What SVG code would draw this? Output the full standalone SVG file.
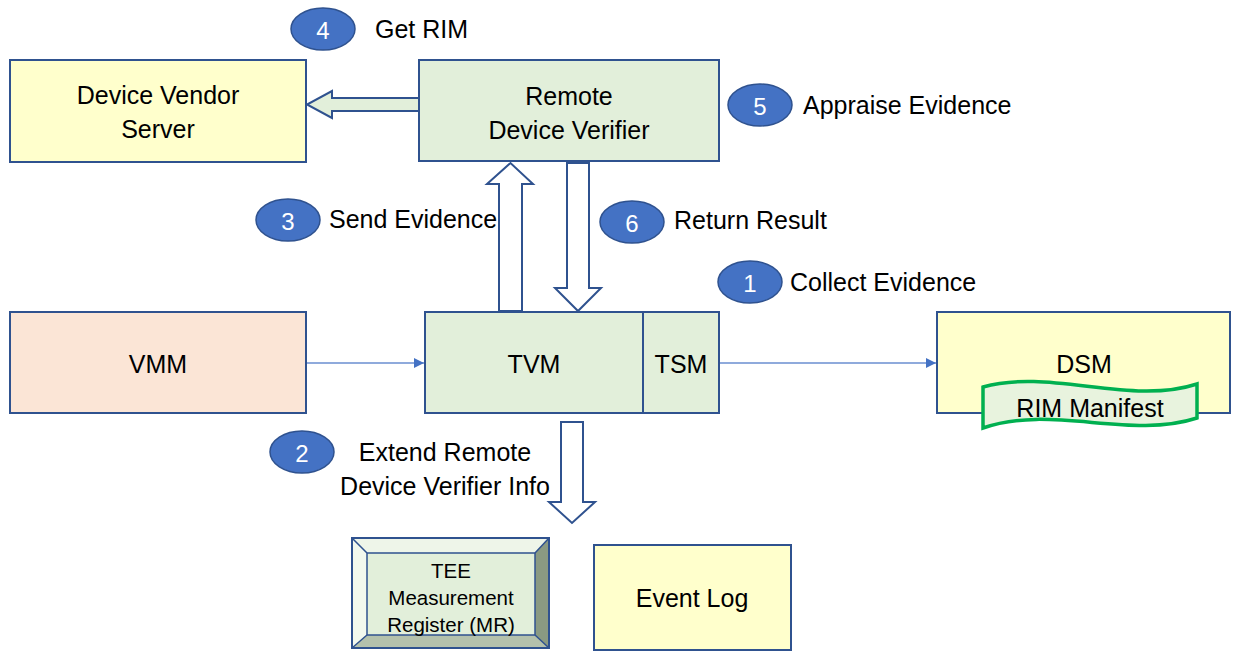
<svg xmlns="http://www.w3.org/2000/svg" width="1235" height="653" viewBox="0 0 1235 653">
<defs>
<style>
.box{stroke:#2F528F;stroke-width:2}
.yel{fill:#FFFFCC}
.grn{fill:#E2EFDA}
.pch{fill:#FBE5D6}
.t{font-family:"Liberation Sans",Arial,sans-serif;font-size:25px;fill:#000;dominant-baseline:central}
.c{text-anchor:middle}
.num{fill:#4472C4;stroke:#2F528F;stroke-width:1.5}
.nt{font-family:"Liberation Sans",Arial,sans-serif;font-size:24px;fill:#fff;text-anchor:middle;dominant-baseline:central}
.blk{stroke:#2F528F;stroke-width:2;stroke-linejoin:miter}
.thin{stroke:#8FAADC;stroke-width:2;fill:none}
.sm{font-size:20.5px}
</style>
<marker id="ah" viewBox="0 0 10 10" refX="10" refY="5" markerWidth="5" markerHeight="5" orient="auto" markerUnits="strokeWidth">
<path d="M0,0 L10,5 L0,10 z" fill="#4472C4"/>
</marker>
</defs>
<rect width="1235" height="653" fill="#fff"/>

<g id="connectors">
<path class="thin" d="M306,363 H424" marker-end="url(#ah)"/>
<path class="thin" d="M719,363 H936" marker-end="url(#ah)"/>
<path class="blk" fill="#E2EFDA" d="M419,98 H332 V91 L307,104.5 L332,118 V111 H419 z"/>
<path class="blk" fill="#fff" d="M499,311 V184 H487 L510.5,163 L533,184 H522 V311 z"/>
<path class="blk" fill="#fff" d="M567,163 V288 H555 L578,311 L601,288 H589 V163 z"/>
<path class="blk" fill="#fff" d="M561,422 V502 H549 L572,523 L595,502 H583 V422 z"/>
</g>

<g id="device-vendor-server">
<rect class="box yel" x="10" y="60" width="296" height="102"/>
<text class="t c" x="158" y="95">Device Vendor</text>
<text class="t c" x="158" y="129">Server</text>
</g>

<g id="remote-device-verifier">
<rect class="box grn" x="419" y="60" width="300" height="101"/>
<text class="t c" x="569" y="96">Remote</text>
<text class="t c" x="569" y="130">Device Verifier</text>
</g>

<g id="vmm">
<rect class="box pch" x="10" y="312" width="296" height="101"/>
<text class="t c" x="158" y="364">VMM</text>
</g>

<g id="tvm">
<rect class="box grn" x="425" y="312" width="218" height="101"/>
<text class="t c" x="534" y="364">TVM</text>
</g>

<g id="tsm">
<rect class="box grn" x="643" y="312" width="76" height="101"/>
<text class="t c" x="681" y="364">TSM</text>
</g>

<g id="dsm">
<rect class="box yel" x="937" y="312" width="293" height="101"/>
<text class="t c" x="1084" y="364">DSM</text>
</g>

<g id="rim-manifest">
<path d="M983,387 C1050,368 1130,406 1197,384 V418 C1130,440 1050,404 983,428 z" fill="#E8F3DE" stroke="#00B050" stroke-width="3.5"/>
<text class="t c" x="1090" y="408">RIM Manifest</text>
</g>

<g id="tee-mr">
<rect x="352" y="538" width="197" height="110" fill="#E2EFDA"/>
<path d="M352,538 H549 L535,553 H367 z" fill="#EEF5E9"/>
<path d="M352,538 L367,553 V635 L352,648 z" fill="#F2F8EE"/>
<path d="M549,538 V648 L535,635 V553 z" fill="#8A9A82"/>
<path d="M352,648 H549 L535,635 H367 z" fill="#B4C1AC"/>
<path d="M352,538 L367,553 M549,538 L535,553 M352,648 L367,635 M549,648 L535,635" stroke="#2F528F" stroke-width="1.5" fill="none"/>
<rect x="367" y="553" width="168" height="82" fill="#E2EFDA" stroke="#2F528F" stroke-width="1.5"/>
<rect x="352" y="538" width="197" height="110" fill="none" stroke="#2F528F" stroke-width="2"/>
<text class="t c sm" x="451" y="570">TEE</text>
<text class="t c sm" x="451" y="597">Measurement</text>
<text class="t c sm" x="451" y="624">Register (MR)</text>
</g>

<g id="event-log">
<rect class="box yel" x="594" y="545" width="197" height="105"/>
<text class="t c" x="692" y="598">Event Log</text>
</g>

<g id="step-4">
<ellipse class="num" cx="323" cy="29" rx="32" ry="21"/>
<text class="nt" x="323" y="30">4</text>
<text class="t" x="375" y="29">Get RIM</text>
</g>
<g id="step-5">
<ellipse class="num" cx="760" cy="105" rx="32" ry="21"/>
<text class="nt" x="760" y="106">5</text>
<text class="t" x="803" y="105">Appraise Evidence</text>
</g>
<g id="step-3">
<ellipse class="num" cx="288" cy="220" rx="32" ry="21"/>
<text class="nt" x="288" y="221">3</text>
<text class="t" x="329" y="219">Send Evidence</text>
</g>
<g id="step-6">
<ellipse class="num" cx="632" cy="222" rx="32" ry="21"/>
<text class="nt" x="632" y="223">6</text>
<text class="t" x="674" y="220">Return Result</text>
</g>
<g id="step-1">
<ellipse class="num" cx="750" cy="282" rx="32" ry="21"/>
<text class="nt" x="750" y="283">1</text>
<text class="t" x="790" y="282">Collect Evidence</text>
</g>
<g id="step-2">
<ellipse class="num" cx="302" cy="452" rx="32" ry="21"/>
<text class="nt" x="302" y="453">2</text>
<text class="t c" x="445" y="452">Extend Remote</text>
<text class="t c" x="445" y="486">Device Verifier Info</text>
</g>
</svg>
